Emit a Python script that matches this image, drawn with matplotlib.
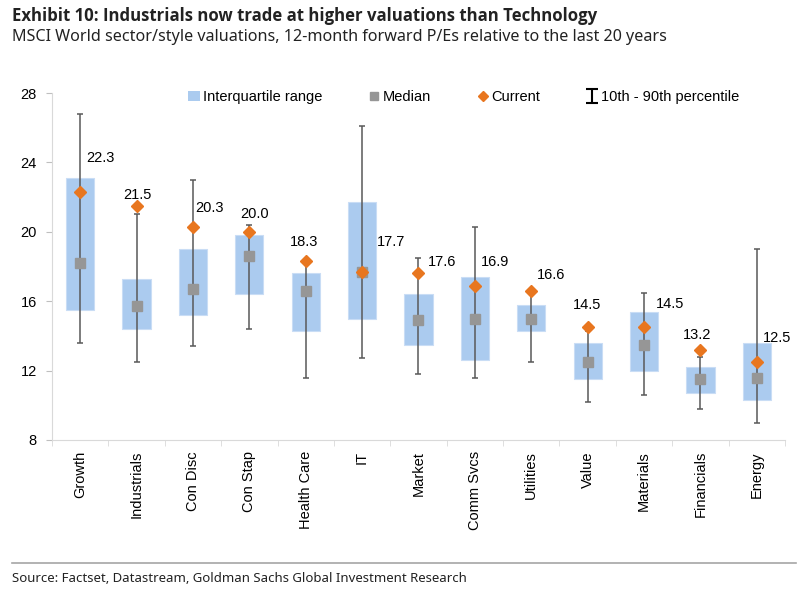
import numpy as np
import matplotlib
matplotlib.use("Agg")
import matplotlib.pyplot as plt
from matplotlib.patches import Patch
from matplotlib.lines import Line2D

plt.rcParams['font.family'] = ['Liberation Sans', 'DejaVu Sans']

sectors = ['Growth', 'Industrials', 'Con Disc', 'Con Stap', 'Health Care', 'IT', 'Market',
           'Comm Svcs', 'Utilities', 'Value', 'Materials', 'Financials', 'Energy']
p10 = [13.6, 12.5, 13.4, 14.4, 11.6, 12.7, 11.8, 11.6, 12.5, 10.2, 10.6, 9.8, 9.0]
p90 = [26.8, 21.0, 23.0, 20.4, 18.2, 26.1, 18.5, 20.3, 16.5, 14.3, 16.5, 12.8, 19.0]
q25 = [15.5, 14.4, 15.2, 16.4, 14.3, 15.0, 13.5, 12.6, 14.3, 11.5, 12.0, 10.7, 10.3]
q75 = [23.1, 17.3, 19.0, 19.8, 17.6, 21.7, 16.4, 17.4, 15.8, 13.6, 15.4, 12.2, 13.6]
median = [18.2, 15.7, 16.7, 18.6, 16.6, 17.7, 14.9, 15.0, 15.0, 12.5, 13.5, 11.5, 11.6]
current = [22.3, 21.5, 20.3, 20.0, 18.3, 17.7, 17.6, 16.9, 16.6, 14.5, 14.5, 13.2, 12.5]

# label offsets in pixels (dx, dy) from the diamond
label_off = [(20, 34), (1, 11), (17, 19), (5, 18), (-2, 19), (29, 30), (24, 11),
             (20, 24), (20, 16), (-1, 22), (26, 23), (-3, 15), (20, 24)]

blue = '#abcbef'
grey = '#969696'
orange = '#e8761f'
whisk = '#595959'

fig = plt.figure(figsize=(8.02, 5.91), dpi=100)
ax = fig.add_axes([0.0648, 0.2555, 0.914, 0.5871])

x = np.arange(len(sectors))
q25 = np.array(q25)
q75 = np.array(q75)
ax.bar(x, q75 - q25, bottom=q25, width=0.5, color=blue, edgecolor='#c9ddf5', linewidth=0.8, zorder=1)
med = np.array(median)
ax.errorbar(x, med, yerr=[med - np.array(p10), np.array(p90) - med], fmt='none',
            ecolor=whisk, elinewidth=1.1, capsize=2.5, capthick=1.1, zorder=2)
ax.plot(x, median, ls='none', marker='s', ms=6.5, color=grey, zorder=3)
ax.plot(x, current, ls='none', marker='D', ms=6.5, color=orange, zorder=4)

for i, v in enumerate(current):
    ax.annotate('%.1f' % v, (x[i], v), xytext=label_off[i], textcoords='offset pixels',
                ha='center', va='center', fontsize=10.5, color='black', zorder=5)

ax.set_xlim(-0.5, len(sectors) - 0.5)
ax.set_ylim(8, 28)
ax.set_yticks([8, 12, 16, 20, 24, 28])
ax.set_xticks(x)
ax.set_xticklabels(sectors, rotation=90, fontsize=10.5)
ax.set_xticks(np.arange(-0.5, len(sectors), 1), minor=True)
ax.tick_params(axis='x', which='major', length=0, pad=8)
ax.tick_params(axis='x', which='minor', length=4, color='#d9d9d9', direction='out')
ax.tick_params(axis='y', length=4, color='#bfbfbf', labelsize=10.5, pad=7)
for s in ['top', 'right']:
    ax.spines[s].set_visible(False)
ax.spines['left'].set_color('#d9d9d9')
ax.spines['bottom'].set_color('#d9d9d9')

eb = ax.errorbar([np.nan], [np.nan], yerr=[1], fmt='none', ecolor='black',
                 elinewidth=1.5, capsize=4, capthick=1.5)
handles = [Patch(facecolor=blue, edgecolor='none'),
           Line2D([], [], ls='none', marker='s', ms=6, color=grey),
           Line2D([], [], ls='none', marker='D', ms=5, color=orange),
           eb]
labels = ['Interquartile range', 'Median', 'Current', '10th - 90th percentile']
fig.legend(handles, labels, loc='center', bbox_to_anchor=(0.578, 0.836), ncol=4,
           frameon=False, fontsize=10.5, handlelength=0.8, handletextpad=0.2,
           columnspacing=3.15)

fig.text(0.015, 0.973, 'Exhibit 10: Industrials now trade at higher valuations than Technology',
         fontsize=12.1, fontweight='bold', family='Open Sans', va='center', color='#222222')
fig.text(0.015, 0.938, 'MSCI World sector/style valuations, 12-month forward P/Es relative to the last 20 years',
         fontsize=11.6, family='Noto Sans', va='center', color='#222222')
fig.add_artist(Line2D([0.015, 0.992], [1 - 563 / 591] * 2, color='#a6a6a6', lw=1.2))
fig.text(0.015, 1 - 578 / 591, 'Source: Factset, Datastream, Goldman Sachs Global Investment Research',
         fontsize=9.5, family='Noto Sans', va='center', color='#222222')

fig.savefig('out.png', dpi=100)
